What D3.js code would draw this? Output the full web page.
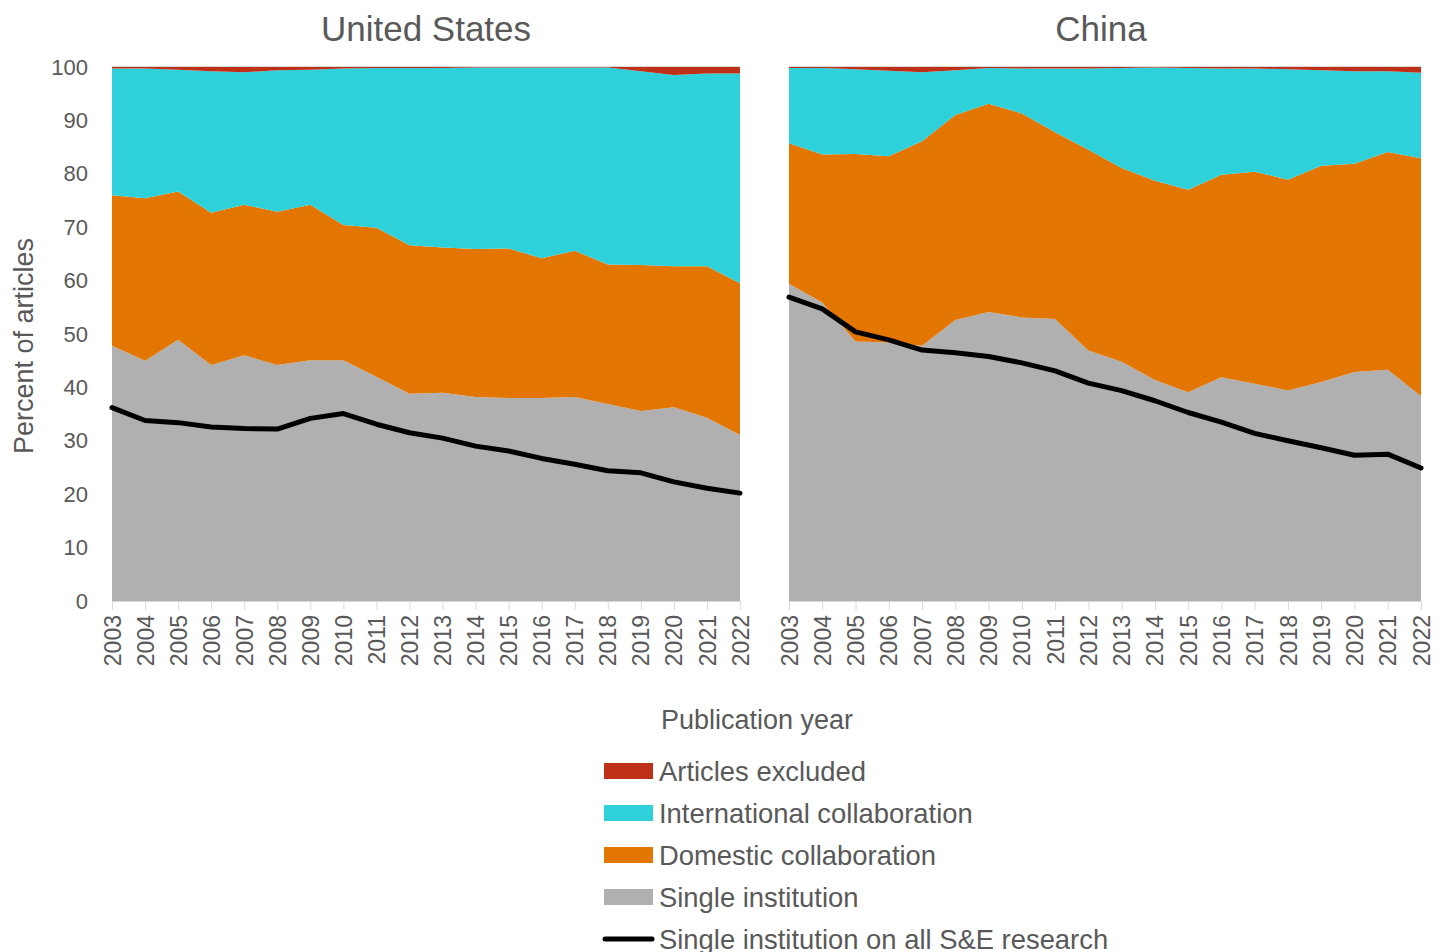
<!DOCTYPE html>
<html>
<head>
<meta charset="utf-8">
<script src="https://cdn.jsdelivr.net/npm/d3@7/dist/d3.min.js"></script>
<style>
  html, body { margin: 0; padding: 0; background: #fff; }
  svg { display: block; font-family: "Liberation Sans", Arial, sans-serif; }
</style>
</head>
<body>
<svg id="chart" width="1445" height="952"></svg>
<script>
const years = [2003,2004,2005,2006,2007,2008,2009,2010,2011,2012,2013,2014,2015,2016,2017,2018,2019,2020,2021,2022];
const yTicks = [0,10,20,30,40,50,60,70,80,90,100];
const seriesKeys = ["single","domestic","international","excluded"];
const seriesLabels = ["Single institution","Domestic collaboration","International collaboration","Articles excluded"];
const lineLabel = "Single institution on all S&E research";
const panelTitles = ["United States","China"];

// United States
const usSingle   = [47.8,45.0,48.9,44.2,46.0,44.2,45.1,45.1,42.0,38.8,39.0,38.2,38.0,38.0,38.2,36.9,35.6,36.3,34.3,31.1];
const usDomestic = [28.2,30.4,27.8,28.5,28.2,28.7,29.1,25.3,27.9,27.8,27.2,27.7,28.0,26.2,27.4,26.1,27.3,26.4,28.4,28.4];
const usIntl     = [23.7,24.3,22.8,26.5,24.8,26.5,25.3,29.3,29.9,33.2,33.6,34.0,33.9,35.7,34.3,36.9,36.3,35.8,36.1,39.3];
const usExcluded = [0.3,0.3,0.5,0.8,1.0,0.6,0.5,0.3,0.2,0.2,0.2,0.1,0.1,0.1,0.1,0.1,0.8,1.5,1.2,1.2];
const usAllSE    = [36.2,33.8,33.4,32.6,32.3,32.2,34.2,35.1,33.1,31.5,30.5,29.0,28.1,26.7,25.6,24.4,24.0,22.3,21.1,20.2];

// China
const cnSingle   = [59.4,55.9,48.6,48.4,47.8,52.6,54.1,53.1,52.8,46.9,44.8,41.4,39.1,41.9,40.7,39.4,41.0,42.9,43.3,38.4];
const cnDomestic = [26.3,27.7,35.1,34.9,38.3,38.4,39.0,38.2,35.0,37.6,36.3,37.3,37.9,37.9,39.7,39.5,40.5,39.0,40.8,44.5];
const cnIntl     = [14.1,16.2,15.9,16.0,12.9,8.4,6.7,8.4,11.9,15.2,18.7,21.2,22.8,19.9,19.3,20.7,17.9,17.3,15.1,16.0];
const cnExcluded = [0.2,0.2,0.4,0.7,1.0,0.6,0.2,0.3,0.3,0.3,0.2,0.1,0.2,0.3,0.3,0.4,0.6,0.8,0.8,1.1];
const cnAllSE    = [56.9,54.7,50.4,48.9,47.0,46.5,45.8,44.6,43.1,40.8,39.4,37.5,35.3,33.5,31.4,30.0,28.7,27.3,27.5,24.9];

const colors = { single: "#AFB0AF", domestic: "#E37600", international: "#2ED1D9", excluded: "#BF3019" };
const textColor = "#595959";

function buildRows(s, d, i, e) {
  return years.map((y, k) => ({ year: y, single: s[k], domestic: d[k], international: i[k], excluded: e[k] }));
}
const panels = [
  { title: panelTitles[0], rows: buildRows(usSingle, usDomestic, usIntl, usExcluded), line: usAllSE, x0: 112, x1: 740 },
  { title: panelTitles[1], rows: buildRows(cnSingle, cnDomestic, cnIntl, cnExcluded), line: cnAllSE, x0: 789, x1: 1421 }
];

const svg = d3.select("#chart");
const yTop = 67, yBot = 601;
const y = d3.scaleLinear().domain([0, 100]).range([yBot, yTop]);
const stack = d3.stack().keys(seriesKeys);

panels.forEach((p, pi) => {
  const x = d3.scalePoint().domain(years).range([p.x0, p.x1]);
  const g = svg.append("g");

  g.append("line").attr("x1", p.x0).attr("x2", p.x1).attr("y1", y(100) - 0.5).attr("y2", y(100) - 0.5)
    .attr("stroke", "#d9d9d9").attr("stroke-width", 1);

  const area = d3.area().x(d => x(d.data.year)).y0(d => y(d[0])).y1(d => y(d[1]));
  g.selectAll("path.layer").data(stack(p.rows)).join("path")
    .attr("class", "layer")
    .attr("d", area)
    .attr("fill", d => colors[d.key]);

  const xAxis = g.append("g").attr("transform", `translate(0,${yBot})`)
    .call(d3.axisBottom(x).tickSize(9).tickSizeOuter(0));
  xAxis.select(".domain").attr("stroke", "#d9d9d9");
  xAxis.selectAll(".tick line").attr("stroke", "#d9d9d9");
  xAxis.selectAll(".tick text")
    .attr("fill", textColor)
    .attr("font-size", 23)
    .attr("font-family", "Liberation Sans, Arial, sans-serif")
    .attr("text-anchor", "end")
    .attr("transform", "rotate(-90)")
    .attr("x", -14)
    .attr("y", 0)
    .attr("dy", "0.35em");

  if (pi === 0) {
    const yAxis = g.append("g").attr("transform", `translate(${p.x0},0)`)
      .call(d3.axisLeft(y).tickValues(yTicks).tickSize(0).tickPadding(24));
    yAxis.select(".domain").remove();
    yAxis.selectAll(".tick text")
      .attr("fill", textColor)
      .attr("font-size", 22)
      .attr("font-family", "Liberation Sans, Arial, sans-serif");
  }

  const line = d3.line().x((d, k) => x(years[k])).y(d => y(d));
  g.append("path").datum(p.line)
    .attr("d", line)
    .attr("fill", "none")
    .attr("stroke", "#000")
    .attr("stroke-width", 5)
    .attr("stroke-linejoin", "round")
    .attr("stroke-linecap", "round");

  g.append("text")
    .attr("x", (p.x0 + p.x1) / 2 - (pi === 1 ? 4 : 0))
    .attr("y", 41)
    .attr("text-anchor", "middle")
    .attr("font-size", 35)
    .attr("fill", textColor)
    .text(p.title);
});

svg.append("text")
  .attr("transform", "translate(33,346) rotate(-90)")
  .attr("text-anchor", "middle")
  .attr("font-size", 27)
  .attr("fill", textColor)
  .text("Percent of articles");

svg.append("text")
  .attr("x", 757)
  .attr("y", 729)
  .attr("text-anchor", "middle")
  .attr("font-size", 27)
  .attr("fill", textColor)
  .text("Publication year");

const legendItems = [
  { label: seriesLabels[3], key: "excluded" },
  { label: seriesLabels[2], key: "international" },
  { label: seriesLabels[1], key: "domestic" },
  { label: seriesLabels[0], key: "single" },
  { label: lineLabel, key: "line" }
];
const lg = svg.append("g");
legendItems.forEach((it, k) => {
  const cy = 771 + k * 42;
  if (it.key === "line") {
    lg.append("line").attr("x1", 605).attr("x2", 652).attr("y1", cy).attr("y2", cy)
      .attr("stroke", "#000").attr("stroke-width", 5).attr("stroke-linecap", "round");
  } else {
    lg.append("rect").attr("x", 604).attr("y", cy - 8).attr("width", 49).attr("height", 16)
      .attr("fill", colors[it.key]);
  }
  lg.append("text").attr("x", 659).attr("y", cy).attr("dy", "0.35em")
    .attr("font-size", 27.4).attr("fill", textColor).text(it.label);
});
</script>
</body>
</html>
